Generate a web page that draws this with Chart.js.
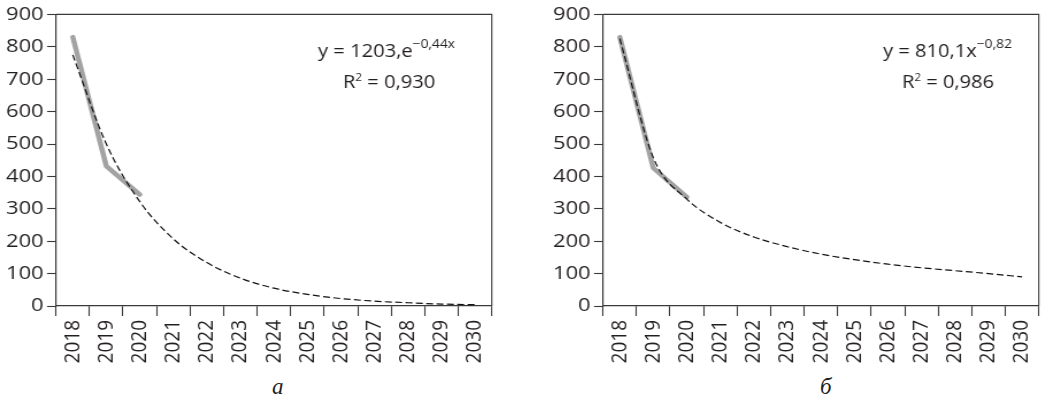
<!DOCTYPE html>
<html>
<head>
<meta charset="utf-8">
<script src="https://cdn.jsdelivr.net/npm/chart.js@4.4.1/dist/chart.umd.min.js"></script>
<style>
  body { margin: 0; background: #fff; width: 1051px; height: 415px; position: relative; overflow: hidden; }
  .wrap { position: absolute; top: 0; width: 440px; height: 372px; transform: scaleX(1.15); transform-origin: 0 0; }
  .caption { position: absolute; top: 374px; font-family: "Liberation Serif", serif; font-style: italic; font-size: 23px; color: #231f20; }
</style>
</head>
<body>
<div class="wrap" style="left:0px"><canvas id="chartA"></canvas></div>
<div class="wrap" style="left:547px"><canvas id="chartB"></canvas></div>
<div class="caption" style="left:272px">а</div>
<div class="caption" style="left:820px">б</div>
<script>
const years = ['2018', '2019', '2020', '2021', '2022', '2023', '2024', '2025', '2026', '2027', '2028', '2029', '2030'];
const yMin = 0, yMax = 900, yStep = 100;

// панель а
const actualA = [830, 432, 344];
const expTrend = [775, 500, 322, 207, 134, 86, 55, 36, 23, 15, 10, 6, 4];
// панель б
const actualB = [830, 426, 336];
const powTrend = [825, 458, 330, 258, 213, 183, 160, 143, 129, 118, 109, 100, 90];

const SX = 1.15;
const ink = '#231f20';
const font = { family: 'Open Sans', size: 19 };

// рамка сверху и справа + уравнение тренда
function framePlugin(eq) {
  return {
    id: 'frame',
    afterDraw(chart) {
      const { ctx, chartArea: a } = chart;
      ctx.save();
      ctx.strokeStyle = '#3a3a3a';
      ctx.lineWidth = 1.1;
      ctx.beginPath();
      ctx.moveTo(a.left, a.top);
      ctx.lineTo(a.right, a.top);
      ctx.lineTo(a.right, a.bottom);
      ctx.stroke();

      ctx.fillStyle = ink;
      ctx.textBaseline = 'alphabetic';
      ctx.textAlign = 'left';
      eq.forEach(line => {
        let x = line.x / SX;
        line.parts.forEach(p => {
          ctx.font = p[1] + 'px "Open Sans"';
          ctx.fillText(p[0], x, line.y + p[2]);
          x += ctx.measureText(p[0]).width;
        });
      });
      ctx.restore();
    }
  };
}

function makeChart(id, actual, trend, eq) {
  new Chart(document.getElementById(id), {
    type: 'line',
    data: {
      labels: years,
      datasets: [
        {
          data: trend,
          borderColor: '#111',
          borderWidth: 1.2,
          borderDash: [6, 3],
          pointRadius: 0,
          cubicInterpolationMode: 'monotone'
        },
        {
          data: actual,
          borderColor: '#a3a3a3',
          borderWidth: 4.5,
          borderCapStyle: 'round',
          borderJoinStyle: 'round',
          pointRadius: 0,
          tension: 0
        }
      ]
    },
    options: {
      responsive: true,
      maintainAspectRatio: false,
      animation: false,
      layout: { padding: { top: 14, right: 3.5, left: 0, bottom: 0 } },
      plugins: { legend: { display: false }, tooltip: { enabled: false } },
      scales: {
        x: {
          offset: true,
          grid: { drawOnChartArea: false, offset: true, tickLength: 10, color: '#3a3a3a', tickWidth: 1.1 },
          border: { color: '#3a3a3a', width: 1.2 },
          ticks: { color: ink, font: font, minRotation: 90, maxRotation: 90, autoSkip: false, padding: 4 },
          afterFit: s => { s.height = 66; }
        },
        y: {
          min: yMin,
          max: yMax,
          grid: { drawOnChartArea: false, tickLength: 7.8, color: '#3a3a3a', tickWidth: 1.1 },
          border: { color: '#3a3a3a', width: 1.2 },
          ticks: { stepSize: yStep, color: ink, font: font, padding: 3 },
          afterFit: s => { s.width = 48.7; }
        }
      }
    },
    plugins: [framePlugin(eq)]
  });
}

makeChart('chartA', actualA, expTrend, [
  { x: 318, y: 57, parts: [['y = 1203,e', 17.5, 0], ['−0,44x', 12, -9]] },
  { x: 343, y: 88, parts: [['R', 17.5, 0], ['2', 10, -7], [' = 0,930', 17.5, 0]] }
]);
makeChart('chartB', actualB, powTrend, [
  { x: 883 - 547, y: 57, parts: [['y = 810,1x', 17.5, 0], ['−0,82', 12, -9]] },
  { x: 902 - 547, y: 88, parts: [['R', 17.5, 0], ['2', 10, -7], [' = 0,986', 17.5, 0]] }
]);
</script>
</body>
</html>
